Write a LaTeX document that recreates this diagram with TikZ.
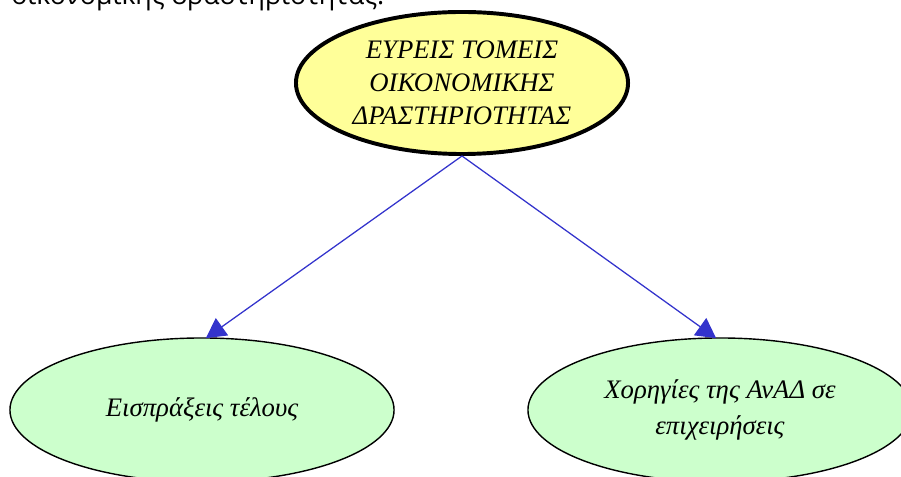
\documentclass[tikz,border=0pt]{standalone}
\usepackage{fontspec}
\setmainfont{Liberation Serif}
\newfontfamily\headfont{Open Sans}
\usetikzlibrary{shapes.geometric, arrows.meta}

\definecolor{mainfill}{HTML}{FFFF99}
\definecolor{subfill}{HTML}{CCFFCC}
\definecolor{linkblue}{HTML}{3333CC}

\tikzset{
    mainsector/.style={ellipse, draw=black, line width=2.8pt, fill=mainfill, inner sep=0pt,
        minimum width=8.3cm, minimum height=3.55cm, align=center,
        font=\itshape\fontsize{19}{23.5}\selectfont},
    subsector/.style={ellipse, draw=black, line width=1pt, fill=subfill, inner sep=0pt,
        minimum width=9.6cm, minimum height=3.6cm, align=center,
        font=\itshape\fontsize{19}{25.5}\selectfont},
    link/.style={draw=linkblue, line width=0.9pt, -{Triangle[length=14pt, width=15pt]}, shorten >=-1pt}
}

\begin{document}
\begin{tikzpicture}[x=0.025cm, y=-0.025cm]
    \useasboundingbox (0,0) rectangle (901,477);
    % line of text cut off by the top edge
    \node[anchor=base west, inner sep=0pt, font=\headfont\fontsize{19}{22}\selectfont] (cut) at (11,5) {οικονομικής δραστηριότητας.};

    % main sector
    \node[mainsector] (main) at (462,83) {ΕΥΡΕΙΣ ΤΟΜΕΙΣ\\ΟΙΚΟΝΟΜΙΚΗΣ\\ΔΡΑΣΤΗΡΙΟΤΗΤΑΣ};

    % the two sectors below
    \node[subsector] (fees) at (202,410) {Εισπράξεις τέλους};
    \node[subsector] (grants) at (720,410) {Χορηγίες της ΑνΑΔ σε\\επιχειρήσεις};

    \draw[link] (main.south) -- (fees.86);
    \draw[link] (main.south) -- (grants.94);
\end{tikzpicture}
\end{document}
